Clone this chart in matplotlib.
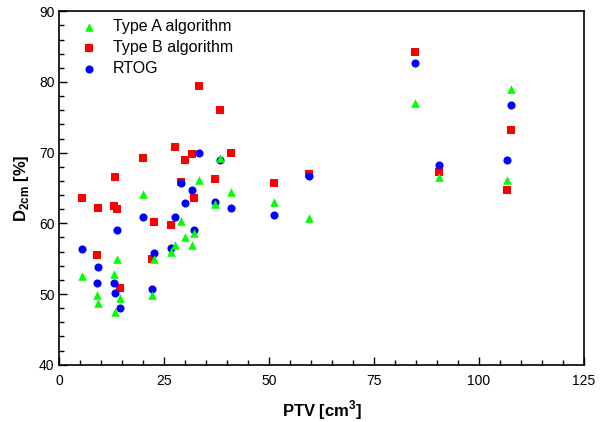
import matplotlib
matplotlib.use("Agg")
import matplotlib.pyplot as plt
from matplotlib.ticker import MultipleLocator

plt.rcParams['font.family'] = ['Liberation Sans', 'DejaVu Sans']
plt.rcParams['mathtext.fontset'] = 'custom'
plt.rcParams['mathtext.rm'] = 'Liberation Sans'
plt.rcParams['mathtext.bf'] = 'Liberation Sans:bold'

ptv = [5.5, 9.0, 9.3, 13.0, 13.3, 13.7, 14.5, 19.9, 22.2, 22.6,
       26.5, 27.6, 28.9, 30.0, 31.6, 32.2, 33.4, 37.1, 38.2, 40.8,
       51.1, 59.4, 84.7, 90.4, 106.6, 107.6]
type_a = [52.5, 49.9, 48.7, 52.9, 47.4, 55.0, 49.4, 64.1, 49.9, 55.0,
          55.9, 56.9, 60.4, 58.0, 57.0, 58.6, 66.2, 62.7, 69.3, 64.5,
          63.0, 60.8, 77.0, 66.6, 66.2, 79.0]
type_b = [63.6, 55.5, 62.1, 62.5, 66.5, 62.0, 50.8, 69.3, 55.0, 60.2,
          59.7, 70.8, 65.9, 69.0, 69.8, 63.6, 79.4, 66.3, 76.0, 70.0,
          65.7, 67.0, 84.3, 67.3, 64.7, 73.2]
rtog = [56.3, 51.6, 53.8, 51.6, 50.1, 59.0, 48.0, 60.9, 50.7, 55.8,
        56.5, 60.9, 65.7, 62.9, 64.7, 59.0, 70.0, 63.0, 69.0, 62.2,
        61.2, 66.7, 82.7, 68.3, 69.0, 76.7]

fig = plt.figure(figsize=(6.0, 4.22), dpi=100)
ax = fig.add_axes([59.3/600, 1-364.7/422, 524.7/600, 353.4/422])

ax.scatter(ptv, type_a, marker='^', s=38, color='#00ff00', linewidths=0, label='Type A algorithm', zorder=3)
ax.scatter(ptv, type_b, marker='s', s=30, color='#ff0000', linewidths=0, label='Type B algorithm', zorder=2)
ax.scatter(ptv, rtog, marker='o', s=34, color='#0000ff', linewidths=0, label='RTOG', zorder=2.5)

ax.set_xlim(0, 125)
ax.set_ylim(40, 90)
ax.xaxis.set_major_locator(MultipleLocator(25))
ax.xaxis.set_minor_locator(MultipleLocator(5))
ax.yaxis.set_major_locator(MultipleLocator(10))
ax.yaxis.set_minor_locator(MultipleLocator(2))
ax.tick_params(which='both', direction='in', top=False, right=False, labelsize=10)
ax.tick_params(which='major', length=6, width=1)
ax.tick_params(which='minor', length=3.5, width=1)
ax.tick_params(axis='x', which='major', pad=7)
for sp in ax.spines.values():
    sp.set_linewidth(1.2)

ax.set_xlabel(r'PTV [cm$^{\mathbf{3}}$]', fontsize=12, fontweight='bold', labelpad=7)
ax.set_ylabel(r'D$_{\mathbf{2cm}}$ [%]', fontsize=12, fontweight='bold', labelpad=6)

leg = ax.legend(loc='upper left', bbox_to_anchor=(0.014, 0.995), frameon=False, fontsize=11.5,
                scatterpoints=1, handletextpad=0.5, labelspacing=0.36, borderaxespad=0.0,
                handlelength=2.0)

fig.savefig('out.png', dpi=100)
